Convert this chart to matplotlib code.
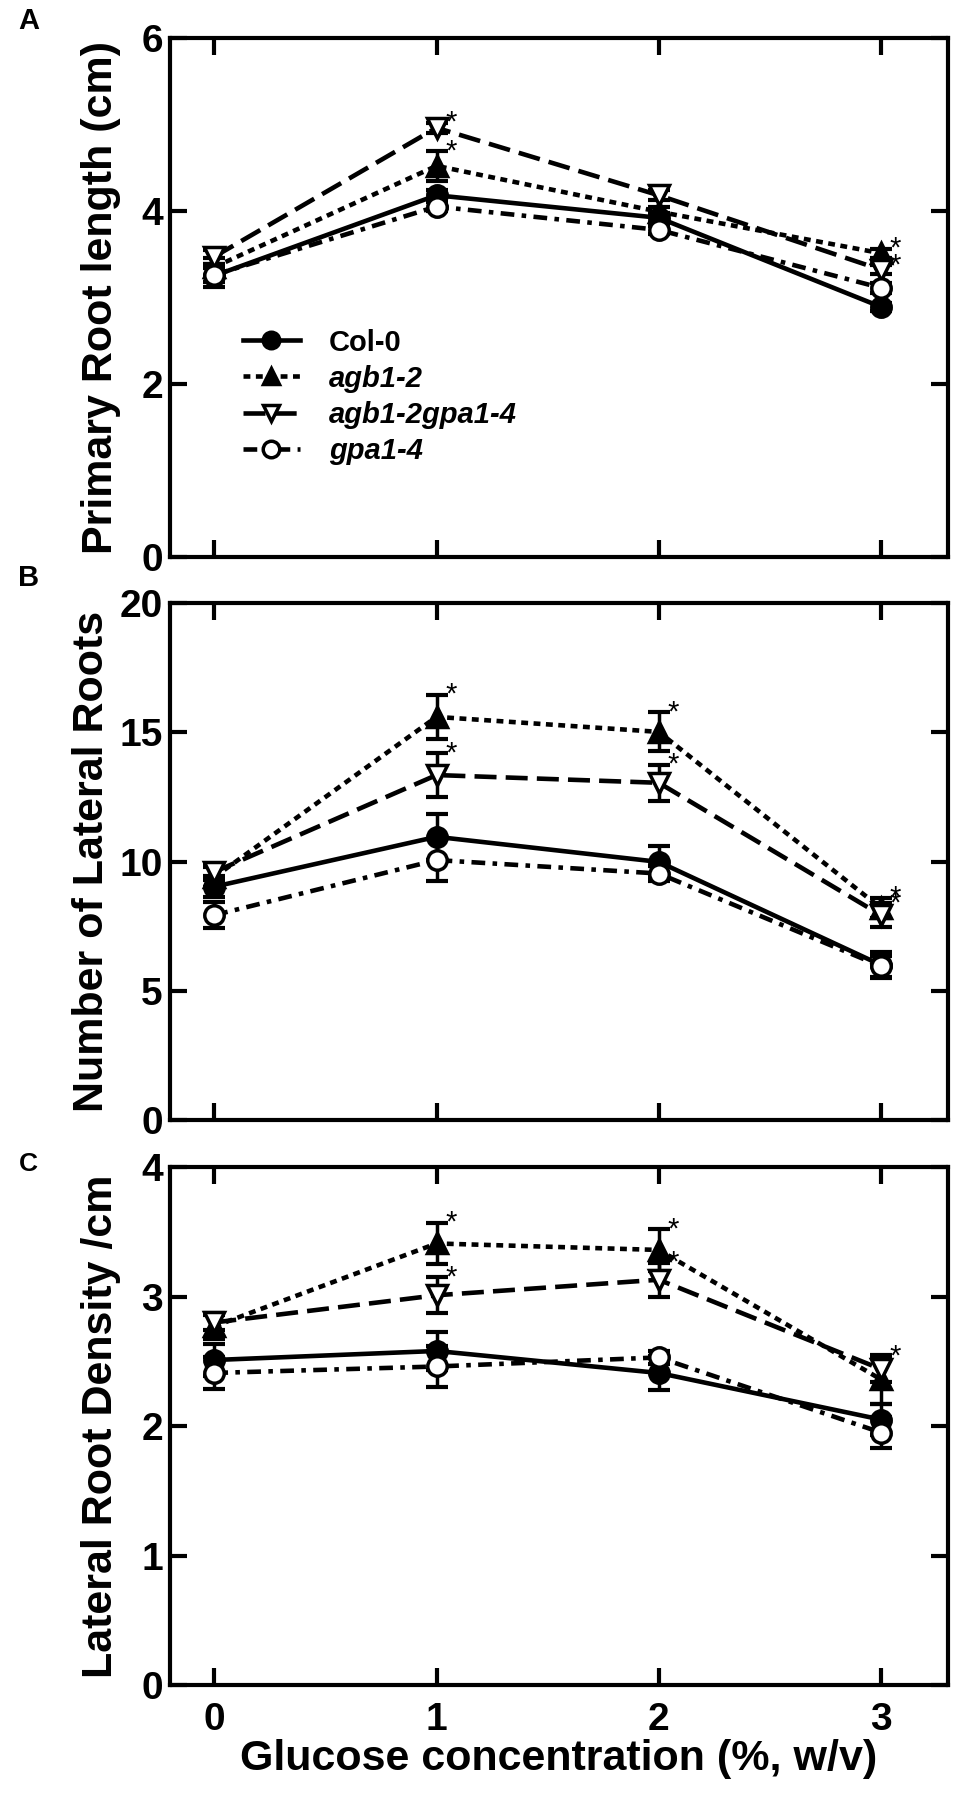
import matplotlib
matplotlib.use("Agg")
import matplotlib.pyplot as plt

plt.rcParams['font.family'] = ['Liberation Sans', 'DejaVu Sans']
plt.rcParams['font.weight'] = 'bold'

glucose = [0, 1, 2, 3]
genotypes = ['Col-0', 'agb1-2', 'agb1-2gpa1-4', 'gpa1-4']

# A - primary root length (cm)
root_col = [3.25, 4.18, 3.92, 2.89]
root_agb = [3.35, 4.52, 3.99, 3.51]
root_dbl = [3.47, 4.96, 4.18, 3.32]
root_gpa = [3.26, 4.05, 3.78, 3.11]
root_col_err = [0.13, 0.06, 0.06, 0.05]
root_agb_err = [0.10, 0.17, 0.06, 0.05]
root_dbl_err = [0.08, 0.06, 0.06, 0.05]
root_gpa_err = [0.08, 0.05, 0.05, 0.06]
root_agb_sig = [0, 1, 0, 1]
root_dbl_sig = [0, 1, 0, 1]

# B - number of lateral roots
lr_col = [9.03, 10.96, 9.99, 6.00]
lr_agb = [9.40, 15.60, 15.02, 8.20]
lr_dbl = [9.60, 13.35, 13.05, 7.93]
lr_gpa = [7.93, 10.06, 9.54, 5.95]
lr_col_err = [0.40, 0.90, 0.60, 0.50]
lr_agb_err = [0.40, 0.85, 0.75, 0.40]
lr_dbl_err = [0.30, 0.85, 0.70, 0.45]
lr_gpa_err = [0.50, 0.80, 0.30, 0.40]
lr_agb_sig = [0, 1, 1, 1]
lr_dbl_sig = [0, 1, 1, 1]

# C - lateral root density (/cm)
lrd_col = [2.51, 2.58, 2.41, 2.05]
lrd_agb = [2.77, 3.41, 3.36, 2.36]
lrd_dbl = [2.80, 3.01, 3.13, 2.44]
lrd_gpa = [2.41, 2.46, 2.53, 1.95]
lrd_col_err = [0.12, 0.15, 0.13, 0.12]
lrd_agb_err = [0.10, 0.16, 0.16, 0.19]
lrd_dbl_err = [0.06, 0.14, 0.13, 0.10]
lrd_gpa_err = [0.12, 0.16, 0.05, 0.12]
lrd_agb_sig = [0, 1, 1, 0]
lrd_dbl_sig = [0, 1, 1, 1]

styles = [
    dict(ls='-', marker='o', mfc='black'),
    dict(ls=(0, (1.5, 1.2)), marker='^', mfc='black'),
    dict(ls=(0, (4.8, 2.0)), marker='v', mfc='white'),
    dict(ls=(0, (3.0, 1.6, 1.0, 1.6)), marker='o', mfc='white'),
]

fig = plt.figure(figsize=(9.76, 17.93), dpi=100)
axA = fig.add_axes([0.174, 0.6894, 0.797, 0.2895])
axB = fig.add_axes([0.174, 0.3753, 0.797, 0.2883])
axC = fig.add_axes([0.174, 0.0602, 0.797, 0.2889])


def draw_panel(ax, series, errs, sigs, ylim, yticks, ylabel, ylab_x):
    lines = []
    for i, (vals, err) in enumerate(zip(series, errs)):
        st = styles[i]
        ax.errorbar(glucose, vals, yerr=err, fmt='none', ecolor='black',
                    elinewidth=2.5, capsize=8, capthick=3, zorder=2)
        ln, = ax.plot(glucose, vals, color='black', lw=3.3, ls=st['ls'],
                      marker=st['marker'], ms=14, mfc=st['mfc'], mec='black',
                      mew=2.5, label=genotypes[i], zorder=3)
        lines.append(ln)
    # asterisk at the top of each significant error bar
    for idx, sig in sigs:
        for x, v, e, s in zip(glucose, series[idx], errs[idx], sig):
            if s:
                ax.text(x + 0.04, v + e, '*', fontsize=21, fontweight='normal',
                        ha='left', va='center')
    ax.set_xlim(-0.2, 3.3)
    ax.set_ylim(*ylim)
    ax.set_xticks(glucose)
    ax.set_yticks(yticks)
    ax.tick_params(direction='in', length=12, width=3, top=True, right=True,
                   labelsize=28, pad=5)
    ax.tick_params(axis='x', labelbottom=False)
    for sp in ax.spines.values():
        sp.set_linewidth(3)
    ax.set_ylabel(ylabel, fontsize=31, fontweight='bold')
    ax.yaxis.set_label_coords(ylab_x, 0.5)
    ax.yaxis.label.set_va('center')
    return lines


linesA = draw_panel(axA, [root_col, root_agb, root_dbl, root_gpa],
                    [root_col_err, root_agb_err, root_dbl_err, root_gpa_err],
                    [(1, root_agb_sig), (2, root_dbl_sig)],
                    (0, 6), [0, 2, 4, 6], 'Primary Root length (cm)', -0.088)
draw_panel(axB, [lr_col, lr_agb, lr_dbl, lr_gpa],
           [lr_col_err, lr_agb_err, lr_dbl_err, lr_gpa_err],
           [(1, lr_agb_sig), (2, lr_dbl_sig)],
           (0, 20), [0, 5, 10, 15, 20], 'Number of Lateral Roots', -0.10)
draw_panel(axC, [lrd_col, lrd_agb, lrd_dbl, lrd_gpa],
           [lrd_col_err, lrd_agb_err, lrd_dbl_err, lrd_gpa_err],
           [(1, lrd_agb_sig), (2, lrd_dbl_sig)],
           (0, 4), [0, 1, 2, 3, 4], 'Lateral Root Density /cm', -0.088)

axC.tick_params(axis='x', labelbottom=True, pad=12)
axC.set_xlabel('Glucose concentration (%, w/v)', fontsize=31, fontweight='bold')
axC.xaxis.set_label_coords(0.5, -0.142)
axC.xaxis.label.set_va('center')

leg = axA.legend(handles=linesA, loc='upper left', bbox_to_anchor=(0.094, 0.44),
                 frameon=False, fontsize=21, handlelength=1.95, handletextpad=1.0,
                 labelspacing=0.28, borderpad=0, borderaxespad=0, markerscale=0.85)
for i, t in enumerate(leg.get_texts()):
    t.set_fontweight('bold')
    if i > 0:
        t.set_fontstyle('italic')

fig.text(29 / 976, 1 - 21 / 1793, 'A', fontsize=21, fontweight='bold', ha='center', va='center')
fig.text(29 / 976, 1 - 578 / 1793, 'B', fontsize=21, fontweight='bold', ha='center', va='center')
fig.text(28 / 976, 1 - 1164 / 1793, 'C', fontsize=19, fontweight='bold', ha='center', va='center')

fig.savefig('out.png', dpi=100)
